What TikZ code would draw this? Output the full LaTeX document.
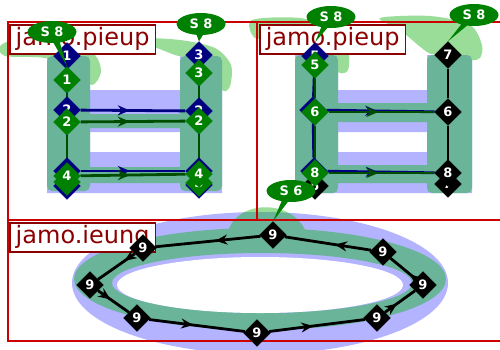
\documentclass[tikz,border=0pt]{standalone}
\usepackage{fontspec}
\setmainfont{DejaVu Sans}
\usetikzlibrary{arrows.meta,shapes.geometric,shapes.callouts,decorations.markings}
\definecolor{lav}{RGB}{179,179,255}
\definecolor{lgreen}{RGB}{153,221,153}
\definecolor{tealmix}{RGB}{106,180,153}
\definecolor{framered}{RGB}{204,0,0}
\definecolor{labred}{RGB}{139,0,0}
\definecolor{ptnavy}{RGB}{0,0,128}
\definecolor{ptgreen}{RGB}{0,128,0}
\definecolor{lngreen}{RGB}{0,77,0}
\pgfdeclarelayer{back}
\pgfdeclarelayer{wires}
\pgfsetlayers{back,wires,main}

\begin{document}
\begin{tikzpicture}[x=1pt, y=-1pt,
  frame/.style={draw=framered, line width=2.5pt},
  glyphlabel/.style={draw=labred, line width=1.5pt, fill=white, text=labred, anchor=north west,
    inner xsep=6pt, inner ysep=3pt, font=\fontsize{24}{24}\selectfont},
  pt/.style={diamond, minimum size=27pt, inner sep=0pt, text=white, font=\bfseries\fontsize{13}{13}\selectfont},
  navypt/.style={pt, fill=ptnavy, draw=ptnavy},
  greenpt/.style={pt, fill=ptgreen, draw=ptgreen},
  blackpt/.style={pt, fill=black, draw=black},
  tag/.style={ellipse callout, fill=ptgreen, text=white, minimum width=49pt, minimum height=22pt,
    inner sep=0pt, font=\bfseries\fontsize{13}{13}\selectfont},
  navyline/.style={ptnavy, line width=2.8pt},
  greenline/.style={lngreen, line width=2.8pt},
  blackline/.style={black, line width=2.8pt},
  midarrow/.style={postaction=decorate, decoration={markings,
    mark=at position #1 with {\arrow{Stealth[length=12pt,width=10pt]}}}},
  midarrow/.default=0.47
]
\useasboundingbox (0,0) rectangle (500,349);

\begin{pgfonlayer}{back}
% pieup, first panel
\fill[lav] (47,55) rectangle (90,193) (180,55) rectangle (222,193)
  (90,90) rectangle (180,132) (90,152) rectangle (180,193);
\fill[lgreen] plot[smooth cycle] coordinates {(1,45) (30,35) (70,38) (95,55) (101,72) (92,85) (75,70) (45,58) (5,56)};
\fill[lgreen] plot[smooth cycle] coordinates {(140,39) (180,40) (215,48) (231,65) (230,86) (222,90) (205,62) (175,55)};
\fill[tealmix, rounded corners=5pt] (47,56) rectangle (90,191) (180,56) rectangle (222,191);
\fill[tealmix] (88,114) rectangle (182,128) (88,167) rectangle (182,183);
% pieup, second panel
\fill[lav] (295,55) rectangle (338,193) (427,55) rectangle (472,193)
  (338,90) rectangle (427,132) (338,152) rectangle (427,193);
\fill[lgreen] plot[smooth cycle] coordinates {(252,20) (300,18) (335,30) (348,50) (348,70) (338,72) (320,50) (280,38) (255,38)};
\fill[lgreen] plot[smooth cycle] coordinates {(380,18) (430,16) (470,25) (482,45) (480,58) (470,60) (440,55) (427,52) (400,30)};
\fill[tealmix, rounded corners=5pt] (295,55) rectangle (338,193) (427,55) rectangle (472,193);
\fill[tealmix] (336,103) rectangle (429,122) (336,165) rectangle (429,183);
% ieung
\fill[lav] (260,283) ellipse [x radius=188, y radius=71];
\fill[lgreen] (228,232) .. controls (236,200) and (292,198) .. (306,232) -- cycle;
\begin{scope}
  \clip (260,283) ellipse [x radius=188, y radius=71];
  \fill[tealmix] (228,232) .. controls (236,200) and (292,198) .. (306,232) -- cycle;
\end{scope}
\fill[tealmix, even odd rule] (260,279) ellipse [x radius=186, y radius=51]
  (262,283) ellipse [x radius=150, y radius=30];
\fill[white] (260,285) ellipse [x radius=143, y radius=28];
% panels
\draw[frame] (8,22) rectangle (257,220);
\draw[frame] (257,22) rectangle (520,220);
\draw[frame] (8,220) rectangle (520,341);
\node[glyphlabel] (pieupA) at (9,24) {jamo.pieup};
\node[glyphlabel] (pieupB) at (259,24) {jamo.pieup};
\node[glyphlabel] (ieung) at (9,222) {jamo.ieung};
\end{pgfonlayer}

% first panel points
\node[navypt] (a1) at (67,56) {1};
\node[navypt] (a2) at (67,110) {2};
\node[navypt] (a4b) at (67,186) {4};
\node[navypt] (a4) at (67,171) {4};
\node[navypt] (a3) at (199,55) {3};
\node[navypt] (a2r) at (199,111) {2};
\node[navypt] (a5) at (199,185) {5};
\node[navypt] (a4r) at (199,171) {4};
\node[greenpt] (b1) at (67,80) {1};
\node[greenpt] (b2) at (67,122) {2};
\node[greenpt] (b4b) at (67,182) {4};
\node[greenpt] (b4) at (67,176) {4};
\node[greenpt] (b3) at (199,73) {3};
\node[greenpt] (b2r) at (199,121) {2};
\node[greenpt] (b5) at (199,183) {5};
\node[greenpt] (b4r) at (199,174) {4};

% second panel points
\node[navypt] (c5) at (315,56) {5};
\node[navypt] (c6) at (313,110) {6};
\node[navypt] (c8) at (314,171) {8};
\node[blackpt] (k5) at (315,186) {5};
\node[blackpt] (k7) at (448,55) {7};
\node[blackpt] (k6) at (448,112) {6};
\node[blackpt] (k7b) at (448,184) {7};
\node[blackpt] (k8) at (448,173) {8};
\node[greenpt] (g5) at (315,65) {5};
\node[greenpt] (g6) at (315,112) {6};
\node[greenpt] (g8) at (315,173) {8};

% ieung points
\node[blackpt] (r1) at (273,235) {9};
\node[blackpt] (r2) at (143,248) {9};
\node[blackpt] (r3) at (90,285) {9};
\node[blackpt] (r4) at (137,318) {9};
\node[blackpt] (r5) at (257,333) {9};
\node[blackpt] (r6) at (377,318) {9};
\node[blackpt] (r7) at (423,285) {9};
\node[blackpt] (r8) at (383,252) {9};

\begin{pgfonlayer}{wires}
\draw[navyline] (a1) -- (a2) -- (a4) -- (a4b);
\draw[navyline] (a3) -- (a2r) -- (a4r) -- (a5);
\draw[navyline, midarrow] (a2) -- (a2r);
\draw[navyline, midarrow] (a4) -- (a4r);
\draw[navyline] (c5) -- (c6) -- (c8);
\draw[navyline, midarrow] (c6) -- (k6);
\draw[navyline, midarrow] (c8) -- (k8);
\draw[blackline] (k7) -- (k6) -- (k8) -- (k7b);
\draw[greenline] (b1) -- (b2) -- (b4) -- (b4b);
\draw[greenline] (b3) -- (b2r) -- (b4r) -- (b5);
\draw[greenline, midarrow] (b2) -- (b2r);
\draw[greenline, midarrow] (b4) -- (b4r);
\draw[greenline] (g5) -- (g6) -- (g8);
\draw[greenline, midarrow] (g6) -- (k6);
\draw[greenline, midarrow] (g8) -- (k8);
\draw[blackline, midarrow=0.43] (r1) -- (r2);
\draw[blackline, midarrow=0.28] (r2) -- (r3);
\draw[blackline, midarrow=0.4] (r3) -- (r4);
\draw[blackline, midarrow=0.46] (r4) -- (r5);
\draw[blackline, midarrow=0.46] (r5) -- (r6);
\draw[blackline, midarrow=0.4] (r6) -- (r7);
\draw[blackline, midarrow=0.22] (r7) -- (r8);
\draw[blackline, midarrow=0.42] (r8) -- (r1);
\end{pgfonlayer}

\node[tag, callout absolute pointer={(b1.north)}] (tagA) at (52,32) {S 8};
\node[tag, callout absolute pointer={(a3.north)}] (tagB) at (201,24) {S 8};
\node[tag, callout absolute pointer={(c5.north)}] (tagC) at (331,17) {S 8};
\node[tag, callout absolute pointer={(k7.north)}] (tagD) at (474,15) {S 8};
\node[tag, callout absolute pointer={(r1.north)}] (tagE) at (291,191) {S 6};
\end{tikzpicture}
\end{document}
